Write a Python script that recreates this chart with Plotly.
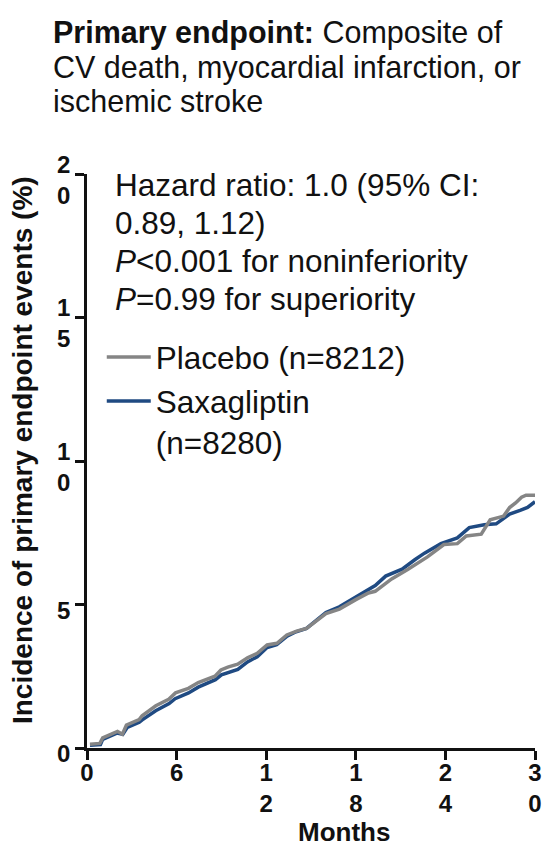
import plotly.graph_objects as go

# Cumulative incidence (%) of the primary endpoint by month
placebo_month = [0.2, 0.86, 1.05, 2.04, 2.37, 2.64, 3.49, 3.69, 4.61, 5.47, 5.93, 6.79, 7.45,
                 8.57, 8.97, 9.43, 10.09, 10.75, 11.40, 12.06, 12.72, 13.38, 14.04, 14.70,
                 16.0, 16.9, 18.0, 18.85, 19.3, 20.4, 21.5, 22.8, 23.9, 24.8, 25.4, 26.4,
                 27.0, 27.9, 28.3, 28.7, 29.1, 29.4, 30.0]
placebo_pct = [0.13, 0.16, 0.35, 0.58, 0.48, 0.80, 0.99, 1.12, 1.47, 1.70, 1.92, 2.08, 2.28,
               2.50, 2.72, 2.82, 2.92, 3.14, 3.30, 3.59, 3.65, 3.94, 4.07, 4.17,
               4.68, 4.84, 5.17, 5.40, 5.46, 5.89, 6.23, 6.66, 7.09, 7.12, 7.39, 7.45,
               7.95, 8.08, 8.38, 8.54, 8.74, 8.81, 8.81]

saxagliptin_month = [0.2, 0.9, 1.05, 2.0, 2.4, 2.7, 3.5, 3.7, 4.6, 5.5, 5.9, 6.8, 7.45, 8.6,
                     9.0, 9.4, 10.1, 10.75, 11.4, 12.06, 12.7, 13.4, 14.0, 14.7, 16.0, 16.9,
                     18.0, 18.85, 19.3, 20.0, 21.1, 21.95, 22.6, 23.7, 24.8, 25.6, 26.6, 27.4,
                     28.3, 29.0, 29.5, 30.0]
saxagliptin_pct = [0.10, 0.12, 0.30, 0.52, 0.48, 0.72, 0.90, 0.98, 1.30, 1.55, 1.72, 1.92, 2.12,
                   2.38, 2.55, 2.62, 2.74, 3.00, 3.18, 3.50, 3.60, 3.90, 4.05, 4.17, 4.72, 4.92,
                   5.25, 5.50, 5.66, 5.99, 6.23, 6.56, 6.79, 7.12, 7.32, 7.68, 7.78, 7.81,
                   8.15, 8.28, 8.38, 8.58]

x_ticks = [0, 6, 12, 18, 24, 30]
x_tick_text = ["0", "6", "1<br>2", "1<br>8", "2<br>4", "3<br>0"]
y_ticks = [0, 5, 10, 15, 20]
y_tick_text = ["0", "5", "1<br>0", "1<br>5", "2<br>0"]

title_lines = [
    "<b>Primary endpoint:</b> Composite of",
    "CV death, myocardial infarction, or",
    "ischemic stroke",
]
stats_lines = [
    "Hazard ratio: 1.0 (95% CI:",
    "0.89, 1.12)",
    "<i>P</i><0.001 for noninferiority",
    "<i>P</i>=0.99 for superiority",
]
y_title = "Incidence of primary endpoint events (%)"
x_title = "Months"

FONT = "Arial, Liberation Sans, Helvetica, sans-serif"
INK = "#111111"
GRAY = "#858585"
BLUE = "#1f4a82"

W, H = 550, 846
L, R, T, B = 87, 8, 174, 98
pw, ph = W - L - R, H - T - B


def px_x(px):
    return (px - L) / pw


def px_y(py):
    return 1 - (py - T) / ph


fig = go.Figure()
fig.add_trace(go.Scatter(
    x=saxagliptin_month, y=saxagliptin_pct, mode="lines",
    name="Saxagliptin<br>(n=8280)", line=dict(color=BLUE, width=3.5),
    legendrank=2,
))
fig.add_trace(go.Scatter(
    x=placebo_month, y=placebo_pct, mode="lines",
    name="Placebo (n=8212)", line=dict(color=GRAY, width=3.5),
    legendrank=1,
))

# heading, one annotation per line for tight spacing
for i, txt in enumerate(title_lines):
    fig.add_annotation(
        text=txt, xref="paper", yref="paper",
        x=px_x(50), y=px_y(33 + 34 * i),
        xanchor="left", yanchor="middle", showarrow=False,
        font=dict(family=FONT, size=30.5, color=INK), align="left",
    )

# statistics block
for i, txt in enumerate(stats_lines):
    fig.add_annotation(
        text=txt, xref="paper", yref="paper",
        x=px_x(113), y=px_y(185 + 38 * i),
        xanchor="left", yanchor="middle", showarrow=False,
        font=dict(family=FONT, size=31.5, color=INK), align="left",
    )

# axis titles
fig.add_annotation(
    text=x_title, xref="paper", yref="paper",
    x=px_x(348), y=px_y(832),
    xanchor="center", yanchor="middle", showarrow=False,
    font=dict(family=FONT, size=26, color=INK, weight="bold"), borderpad=0,
)
fig.add_annotation(
    text=y_title, xref="paper", yref="paper",
    x=px_x(21), y=px_y(450), textangle=-90,
    xanchor="center", yanchor="middle", showarrow=False,
    font=dict(family=FONT, size=28, color=INK, weight="bold"),
)

fig.update_layout(
    width=W, height=H,
    margin=dict(l=L, r=R, t=T, b=B),
    paper_bgcolor="white", plot_bgcolor="white",
    font=dict(family=FONT, color=INK),
    showlegend=True,
    legend=dict(
        x=px_x(102), y=px_y(330), xanchor="left", yanchor="top",
        bgcolor="rgba(0,0,0,0)", font=dict(family=FONT, size=31.5, color=INK),
        itemwidth=44, tracegroupgap=0, valign="top",
    ),
    xaxis=dict(
        range=[0, 30], tickvals=x_ticks, ticktext=x_tick_text,
        showgrid=False, zeroline=False, showline=True, linecolor=INK, linewidth=2.5,
        ticks="outside", ticklen=9, tickwidth=2.5, tickcolor=INK,
        tickfont=dict(family=FONT, size=24, color=INK, weight="bold"),
        ticklabelstandoff=-8,
    ),
    yaxis=dict(
        range=[0, 20], tickvals=y_ticks, ticktext=y_tick_text,
        showgrid=False, zeroline=False, showline=True, linecolor=INK, linewidth=2.5,
        ticks="outside", ticklen=9, tickwidth=2.5, tickcolor=INK,
        tickfont=dict(family=FONT, size=24, color=INK, weight="bold"),
        ticklabelshift=6,
    ),
)

fig.write_html("out.html", config={"displayModeBar": False})
